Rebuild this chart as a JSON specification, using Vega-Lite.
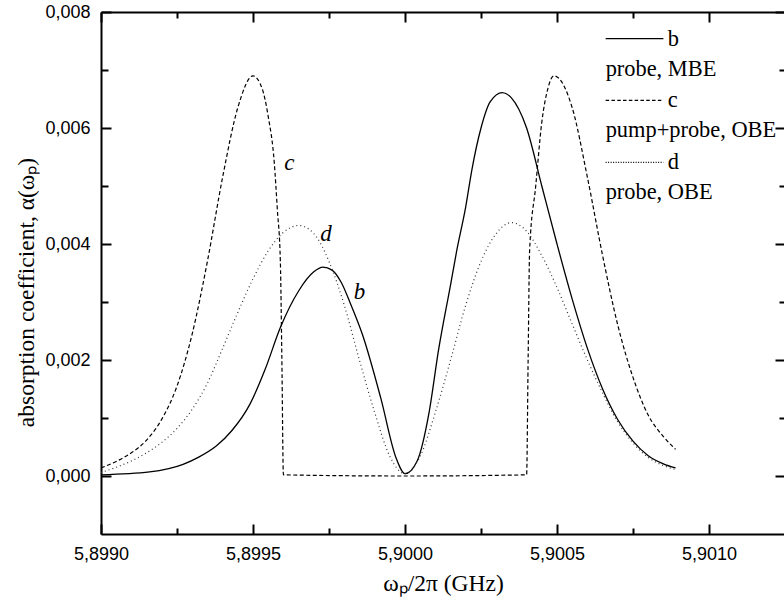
{
  "$schema": "https://vega.github.io/schema/vega-lite/v6.json",
  "autosize": {"type": "none"},
  "padding": {"left": 101, "top": 12, "right": 0, "bottom": 66},
  "width": 684,
  "height": 522,
  "background": "white",
  "datasets": {
    "curves": [
      {"s": "b", "x": 5.8990, "y": 0.00002},
      {"s": "b", "x": 5.89916, "y": 0.00007},
      {"s": "b", "x": 5.89927, "y": 0.0002},
      {"s": "b", "x": 5.89932, "y": 0.00032},
      {"s": "b", "x": 5.89938, "y": 0.00052},
      {"s": "b", "x": 5.89943, "y": 0.00078},
      {"s": "b", "x": 5.89949, "y": 0.00124},
      {"s": "b", "x": 5.89954, "y": 0.00184},
      {"s": "b", "x": 5.89959, "y": 0.00256},
      {"s": "b", "x": 5.89965, "y": 0.00319},
      {"s": "b", "x": 5.89970, "y": 0.00352},
      {"s": "b", "x": 5.89973, "y": 0.0036},
      {"s": "b", "x": 5.89976, "y": 0.00355},
      {"s": "b", "x": 5.89979, "y": 0.00334},
      {"s": "b", "x": 5.89982, "y": 0.00298},
      {"s": "b", "x": 5.89986, "y": 0.00244},
      {"s": "b", "x": 5.89992, "y": 0.00135},
      {"s": "b", "x": 5.89997, "y": 0.00032},
      {"s": "b", "x": 5.90000, "y": 0.00004},
      {"s": "b", "x": 5.90004, "y": 0.00026},
      {"s": "b", "x": 5.90008, "y": 0.00112},
      {"s": "b", "x": 5.90011, "y": 0.00216},
      {"s": "b", "x": 5.90015, "y": 0.0033},
      {"s": "b", "x": 5.90017, "y": 0.00388},
      {"s": "b", "x": 5.90020, "y": 0.00465},
      {"s": "b", "x": 5.90022, "y": 0.00528},
      {"s": "b", "x": 5.90025, "y": 0.00600},
      {"s": "b", "x": 5.90028, "y": 0.00645},
      {"s": "b", "x": 5.90032, "y": 0.00661},
      {"s": "b", "x": 5.90035, "y": 0.00652},
      {"s": "b", "x": 5.90040, "y": 0.00600},
      {"s": "b", "x": 5.90045, "y": 0.00500},
      {"s": "b", "x": 5.90050, "y": 0.00400},
      {"s": "b", "x": 5.90055, "y": 0.00305},
      {"s": "b", "x": 5.90060, "y": 0.00220},
      {"s": "b", "x": 5.90065, "y": 0.00150},
      {"s": "b", "x": 5.90070, "y": 0.00097},
      {"s": "b", "x": 5.90075, "y": 0.00060},
      {"s": "b", "x": 5.90080, "y": 0.00035},
      {"s": "b", "x": 5.90085, "y": 0.00021},
      {"s": "b", "x": 5.90089, "y": 0.00014},
      {"s": "c", "x": 5.8990, "y": 0.00014},
      {"s": "c", "x": 5.89905, "y": 0.00025},
      {"s": "c", "x": 5.8991, "y": 0.00040},
      {"s": "c", "x": 5.89915, "y": 0.00062},
      {"s": "c", "x": 5.8992, "y": 0.00098},
      {"s": "c", "x": 5.89925, "y": 0.00155},
      {"s": "c", "x": 5.8993, "y": 0.00245},
      {"s": "c", "x": 5.89935, "y": 0.00370},
      {"s": "c", "x": 5.8994, "y": 0.00515},
      {"s": "c", "x": 5.89945, "y": 0.00635},
      {"s": "c", "x": 5.8995, "y": 0.00690},
      {"s": "c", "x": 5.89953, "y": 0.00668},
      {"s": "c", "x": 5.89955, "y": 0.00620},
      {"s": "c", "x": 5.89957, "y": 0.00540},
      {"s": "c", "x": 5.89958, "y": 0.00460},
      {"s": "c", "x": 5.89959, "y": 0.00370},
      {"s": "c", "x": 5.899595, "y": 0.00200},
      {"s": "c", "x": 5.89960, "y": 0.00002},
      {"s": "c", "x": 5.90000, "y": 0.0},
      {"s": "c", "x": 5.90040, "y": 0.00002},
      {"s": "c", "x": 5.900405, "y": 0.00200},
      {"s": "c", "x": 5.90041, "y": 0.00390},
      {"s": "c", "x": 5.90043, "y": 0.00500},
      {"s": "c", "x": 5.90045, "y": 0.00610},
      {"s": "c", "x": 5.90047, "y": 0.00668},
      {"s": "c", "x": 5.90049, "y": 0.00690},
      {"s": "c", "x": 5.90055, "y": 0.00635},
      {"s": "c", "x": 5.90060, "y": 0.00515},
      {"s": "c", "x": 5.90065, "y": 0.00380},
      {"s": "c", "x": 5.90070, "y": 0.00260},
      {"s": "c", "x": 5.90075, "y": 0.00170},
      {"s": "c", "x": 5.90080, "y": 0.00105},
      {"s": "c", "x": 5.90085, "y": 0.00068},
      {"s": "c", "x": 5.90089, "y": 0.00046},
      {"s": "d", "x": 5.8990, "y": 0.00006},
      {"s": "d", "x": 5.89905, "y": 0.00015},
      {"s": "d", "x": 5.8991, "y": 0.00026},
      {"s": "d", "x": 5.89915, "y": 0.00040},
      {"s": "d", "x": 5.8992, "y": 0.00058},
      {"s": "d", "x": 5.89925, "y": 0.00082},
      {"s": "d", "x": 5.8993, "y": 0.00115},
      {"s": "d", "x": 5.89935, "y": 0.00160},
      {"s": "d", "x": 5.8994, "y": 0.00220},
      {"s": "d", "x": 5.89945, "y": 0.00282},
      {"s": "d", "x": 5.8995, "y": 0.00340},
      {"s": "d", "x": 5.89955, "y": 0.00388},
      {"s": "d", "x": 5.8996, "y": 0.00420},
      {"s": "d", "x": 5.89965, "y": 0.00432},
      {"s": "d", "x": 5.8997, "y": 0.00418},
      {"s": "d", "x": 5.89975, "y": 0.00370},
      {"s": "d", "x": 5.8998, "y": 0.00295},
      {"s": "d", "x": 5.89985, "y": 0.00200},
      {"s": "d", "x": 5.8999, "y": 0.00110},
      {"s": "d", "x": 5.89995, "y": 0.00034},
      {"s": "d", "x": 5.9000, "y": 0.00004},
      {"s": "d", "x": 5.90005, "y": 0.00034},
      {"s": "d", "x": 5.9001, "y": 0.00110},
      {"s": "d", "x": 5.90015, "y": 0.00200},
      {"s": "d", "x": 5.9002, "y": 0.00295},
      {"s": "d", "x": 5.90025, "y": 0.00370},
      {"s": "d", "x": 5.9003, "y": 0.00418},
      {"s": "d", "x": 5.90035, "y": 0.00437},
      {"s": "d", "x": 5.9004, "y": 0.00422},
      {"s": "d", "x": 5.90045, "y": 0.00380},
      {"s": "d", "x": 5.9005, "y": 0.00325},
      {"s": "d", "x": 5.90055, "y": 0.00262},
      {"s": "d", "x": 5.9006, "y": 0.00200},
      {"s": "d", "x": 5.90065, "y": 0.00143},
      {"s": "d", "x": 5.9007, "y": 0.00093},
      {"s": "d", "x": 5.90075, "y": 0.00057},
      {"s": "d", "x": 5.9008, "y": 0.00032},
      {"s": "d", "x": 5.90085, "y": 0.00018},
      {"s": "d", "x": 5.90089, "y": 0.00011}
    ],
    "notes": [
      {"t": "c", "x": 5.89962, "y": 0.00539},
      {"t": "d", "x": 5.89974, "y": 0.00418},
      {"t": "b", "x": 5.89985, "y": 0.00317}
    ],
    "keylines": [
      {"s": "b", "x1": 5.90066, "x2": 5.90085, "y": 0.007542},
      {"s": "c", "x1": 5.90066, "x2": 5.90085, "y": 0.006477},
      {"s": "d", "x1": 5.90066, "x2": 5.90085, "y": 0.005406}
    ],
    "keytext": [
      {"t": "b", "x": 5.900864, "y": 0.007542},
      {"t": "probe, MBE", "x": 5.90066, "y": 0.007012},
      {"t": "c", "x": 5.900864, "y": 0.006477},
      {"t": "pump+probe, OBE", "x": 5.90066, "y": 0.005959},
      {"t": "d", "x": 5.900864, "y": 0.005406},
      {"t": "probe, OBE", "x": 5.90066, "y": 0.004888}
    ]
  },
  "resolve": {"axis": {"x": "independent", "y": "independent"}},
  "layer": [
    {
      "data": {"name": "curves"},
      "transform": [{"filter": "datum.s === 'b'"}],
      "mark": {"type": "line", "color": "black", "strokeWidth": 1.3, "interpolate": "monotone"},
      "encoding": {
        "x": {"field": "x", "type": "quantitative", "scale": {"domain": [5.899, 5.90125], "nice": false, "zero": false},
          "axis": {"orient": "bottom", "values": [5.899, 5.8995, 5.9, 5.9005, 5.901], "tickSize": -10, "labelPadding": 21, "labelFlush": false, "labelOverlap": false,
            "labelExpr": "replace(format(datum.value, '.4f'), '.', ',')", "title": "ωₚ/2π (GHz)", "titlePadding": 8, "domain": true}},
        "y": {"field": "y", "type": "quantitative", "scale": {"domain": [-0.001, 0.008], "nice": false, "zero": false},
          "axis": {"orient": "left", "values": [0, 0.002, 0.004, 0.006, 0.008], "tickSize": -10, "labelPadding": 21, "labelFlush": false, "labelOverlap": false,
            "labelExpr": "replace(format(datum.value, '.3f'), '.', ',')", "title": "absorption coefficient,  α(ωₚ)", "titlePadding": 6, "titleY": 280, "domain": true}}
      }
    },
    {
      "data": {"name": "curves"},
      "transform": [{"filter": "datum.s === 'c'"}],
      "mark": {"type": "line", "color": "black", "strokeWidth": 1.2, "strokeDash": [4, 2.5], "interpolate": "monotone"},
      "encoding": {
        "x": {"field": "x", "type": "quantitative", "scale": {"domain": [5.899, 5.90125], "nice": false, "zero": false},
          "axis": {"orient": "bottom", "values": [5.89925, 5.89975, 5.90025, 5.90075], "tickSize": -6, "labels": false, "domain": false, "title": null}},
        "y": {"field": "y", "type": "quantitative", "scale": {"domain": [-0.001, 0.008], "nice": false, "zero": false},
          "axis": {"orient": "left", "values": [0.001, 0.003, 0.005, 0.007], "tickSize": -7, "labels": false, "domain": false, "title": null}}
      }
    },
    {
      "data": {"name": "curves"},
      "transform": [{"filter": "datum.s === 'd'"}],
      "mark": {"type": "line", "color": "#333333", "strokeWidth": 1.2, "strokeDash": [1, 3], "interpolate": "monotone"},
      "encoding": {
        "x": {"field": "x", "type": "quantitative", "scale": {"domain": [5.899, 5.90125], "nice": false, "zero": false},
          "axis": {"orient": "top", "values": [5.899, 5.8995, 5.9, 5.9005, 5.901], "tickSize": -10, "labels": false, "domain": true, "title": null}},
        "y": {"field": "y", "type": "quantitative", "scale": {"domain": [-0.001, 0.008], "nice": false, "zero": false},
          "axis": {"orient": "right", "values": [0, 0.002, 0.004, 0.006, 0.008], "tickSize": -10, "labels": false, "domain": true, "title": null}}
      }
    },
    {
      "data": {"name": "notes"},
      "mark": {"type": "text", "font": "Liberation Serif", "fontStyle": "italic", "fontSize": 23, "align": "center", "baseline": "middle", "color": "black"},
      "encoding": {
        "text": {"field": "t"},
        "x": {"field": "x", "type": "quantitative", "scale": {"domain": [5.899, 5.90125], "nice": false, "zero": false},
          "axis": {"orient": "top", "values": [5.89925, 5.89975, 5.90025, 5.90075], "tickSize": -6, "labels": false, "domain": false, "title": null}},
        "y": {"field": "y", "type": "quantitative", "scale": {"domain": [-0.001, 0.008], "nice": false, "zero": false},
          "axis": {"orient": "right", "values": [0.001, 0.003, 0.005, 0.007], "tickSize": -6, "labels": false, "domain": false, "title": null}}
      }
    },
    {
      "data": {"name": "keylines"},
      "mark": {"type": "rule", "color": "black", "strokeWidth": 1.2},
      "encoding": {
        "x": {"field": "x1", "type": "quantitative", "scale": {"domain": [5.899, 5.90125], "nice": false, "zero": false}, "axis": null},
        "x2": {"field": "x2"},
        "y": {"field": "y", "type": "quantitative", "scale": {"domain": [-0.001, 0.008], "nice": false, "zero": false}, "axis": null},
        "strokeDash": {"field": "s", "type": "nominal", "scale": {"domain": ["b", "c", "d"], "range": [[1, 0], [3.5, 2.3], [1, 1.5]]}, "legend": null}
      }
    },
    {
      "data": {"name": "keytext"},
      "mark": {"type": "text", "font": "Liberation Serif", "fontSize": 22.4, "align": "left", "baseline": "middle", "color": "black"},
      "encoding": {
        "text": {"field": "t"},
        "x": {"field": "x", "type": "quantitative", "scale": {"domain": [5.899, 5.90125], "nice": false, "zero": false}, "axis": null},
        "y": {"field": "y", "type": "quantitative", "scale": {"domain": [-0.001, 0.008], "nice": false, "zero": false}, "axis": null}
      }
    }
  ],
  "config": {
    "view": {"stroke": null},
    "axis": {
      "grid": false,
      "domainColor": "black",
      "domainWidth": 2,
      "tickColor": "black",
      "tickWidth": 2,
      "labelFont": "Liberation Sans",
      "labelFontSize": 18,
      "labelColor": "black",
      "titleFont": "Liberation Serif",
      "titleFontSize": 23.5,
      "titleFontWeight": "normal",
      "titleColor": "black"
    }
  }
}
